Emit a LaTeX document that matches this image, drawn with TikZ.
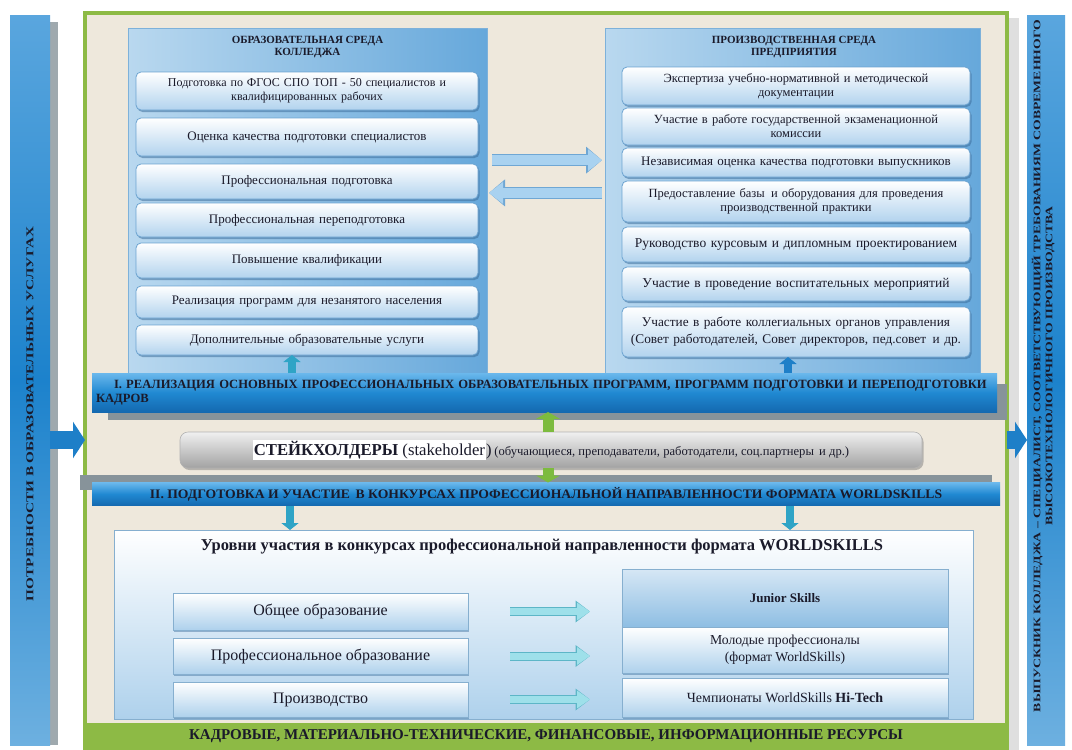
\documentclass[tikz,border=0pt]{standalone}
\usepackage{fontspec}
\setmainfont{Liberation Serif}
\usetikzlibrary{shadows,calc,arrows.meta}
\definecolor{frameG}{HTML}{8DBA45}
\definecolor{beigeF}{HTML}{EEE8DC}
\definecolor{barTop}{HTML}{5AA6DE}
\definecolor{barMid}{HTML}{1C82CC}
\definecolor{barBot}{HTML}{6DB0E0}
\definecolor{bandTop}{HTML}{6BB8EC}
\definecolor{bandMid}{HTML}{2089D2}
\definecolor{bandBot}{HTML}{1469B0}
\definecolor{shGray}{HTML}{87939A}
\definecolor{panL}{HTML}{B9D8EF}
\definecolor{panR}{HTML}{66A8DB}
\definecolor{panEdge}{HTML}{7DB1DA}
\definecolor{itemEdge}{HTML}{6CA3D0}
\definecolor{itemBot}{HTML}{B2D3EE}
\definecolor{itemSh}{HTML}{3D6E9C}
\definecolor{arrF}{HTML}{A9D2F0}
\definecolor{arrE}{HTML}{6FA7D4}
\definecolor{tealF}{HTML}{9EE0EA}
\definecolor{tealE}{HTML}{5DB6C7}
\definecolor{tealD}{HTML}{2FA4C6}
\definecolor{greenA}{HTML}{7DBB3E}
\definecolor{bigA}{HTML}{1E7FC8}
\definecolor{txtD}{HTML}{1A1A2A}
\definecolor{wsBot}{HTML}{AED1EC}
\definecolor{wsEdge}{HTML}{86AFCF}
\definecolor{stkTop}{HTML}{F0F0F0}
\definecolor{stkBot}{HTML}{A2A2A2}
\definecolor{jTop}{HTML}{D6E7F5}
\definecolor{jBot}{HTML}{8EBEE3}
\begin{document}
\begin{tikzpicture}[x=1pt,y=-1pt,
  every node/.style={inner sep=0pt, outer sep=0pt, text=txtD},
  vbar/.style={top color=barTop, bottom color=barBot, middle color=barMid},
  panel/.style={left color=panL, right color=panR, draw=panEdge, line width=0.8pt},
  ptitle/.style={font=\bfseries\fontsize{11}{12.5}\selectfont, align=center},
  item/.style={rounded corners=5pt, draw=itemEdge, line width=0.8pt, top color=white, bottom color=itemBot,
    drop shadow={shadow xshift=1.5pt, shadow yshift=-2pt, fill=itemSh, opacity=0.55},
    align=center, font=\fontsize{13}{15}\selectfont},
  band/.style={top color=bandTop, bottom color=bandBot, middle color=bandMid},
  lvl/.style={draw=wsEdge, line width=0.8pt, top color=white, bottom color=wsBot,
    drop shadow={shadow xshift=1pt, shadow yshift=-1.5pt, fill=itemSh, opacity=0.45},
    align=center},
  midarrow/.style={line width=10pt, draw=arrF, -{Triangle[length=14pt,width=21pt]},
    preaction={draw=arrE, line width=12.5pt, -{Triangle[length=16pt,width=26pt]}}},
  lvlarrow/.style={line width=7pt, draw=tealF, -{Triangle[length=13pt,width=17pt]},
    preaction={draw=tealE, line width=9pt, -{Triangle[length=14.5pt,width=21pt]}}},
  bigarrow/.style={line width=18pt, draw=bigA, -{Triangle[length=12pt,width=36pt]}},
  tealarrow/.style={line width=8pt, draw=tealD, -{Triangle[length=7pt,width=17pt]}},
  greenarrow/.style={line width=11pt, draw=greenA, -{Triangle[length=7pt,width=24pt]}}
]
\useasboundingbox (0,0) rectangle (1072,750);
\fill[white] (0,0) rectangle (1072,750);

% helper coordinates
\coordinate (ay) at (0,440);
\coordinate (xl) at (292,0);
\coordinate (xr) at (788,0);
\coordinate (xg) at (548,0);
\coordinate (xdl) at (290,0);
\coordinate (xdr) at (790,0);

% side bars
\fill[shGray!80] (50,22) rectangle (58,745);
\node[vbar, minimum width=40pt, minimum height=730pt] (lbar) at (30,380) {};
\node[rotate=90, font=\bfseries\fontsize{10.5}{12}\selectfont] (ltxt) at (30,414)
  {\scalebox{1.45}[1]{ПОТРЕБНОСТИ В ОБРАЗОВАТЕЛЬНЫХ УСЛУГАХ}};

\fill[gray!25] (1009,18) rectangle (1019,750);
\node[vbar, minimum width=38pt, minimum height=730pt] (rbar) at (1046,380) {};
\node[rotate=90, font=\bfseries\fontsize{10}{12}\selectfont] (rtxt) at (1044,366)
  {\scalebox{1.37}[1]{\begin{tabular}{@{}c@{}}ВЫПУСКНИК КОЛЛЕДЖА – СПЕЦИАЛИСТ, СООТВЕТСТВУЮЩИЙ ТРЕБОВАНИЯМ СОВРЕМЕННОГО\\ВЫСОКОТЕХНОЛОГИЧНОГО ПРОИЗВОДСТВА\end{tabular}}};

% frame
\node[draw=frameG, line width=4pt, fill=beigeF, minimum width=922pt, minimum height=736pt] (frame) at (546,381) {};
\node[fill=frameG, minimum width=922pt, minimum height=27pt, font=\bfseries\fontsize{15}{17}\selectfont] (res) at (546,736.5)
  {КАДРОВЫЕ, МАТЕРИАЛЬНО-ТЕХНИЧЕСКИЕ, ФИНАНСОВЫЕ, ИНФОРМАЦИОННЫЕ РЕСУРСЫ};

% big arrows
\draw[bigarrow] (lbar.east |- ay) -- (frame.west |- ay);
\draw[bigarrow] (frame.east |- ay) -- (rbar.west |- ay);

% panels
\node[panel, minimum width=359pt, minimum height=345pt] (edu) at (307.5,200.5) {};
\node[ptitle] (edut) at (307.5,47) {ОБРАЗОВАТЕЛЬНАЯ СРЕДА\\КОЛЛЕДЖА};
\node[panel, minimum width=375pt, minimum height=345pt] (prod) at (792.5,200.5) {};
\node[ptitle] (prodt) at (794,47) {ПРОИЗВОДСТВЕННАЯ СРЕДА\\ПРЕДПРИЯТИЯ};

% left items
\node[item, minimum width=342pt, minimum height=38pt, text width=334pt, font=\fontsize{12}{14}\selectfont] (e1) at (307,91)
  {Подготовка по ФГОС СПО ТОП - 50 специалистов и\\квалифицированных рабочих};
\node[item, minimum width=342pt, minimum height=38pt, text width=334pt] (e2) at (307,137) {Оценка качества подготовки специалистов};
\node[item, minimum width=342pt, minimum height=35pt, text width=334pt] (e3) at (307,181.5) {Профессиональная подготовка};
\node[item, minimum width=342pt, minimum height=34pt, text width=334pt] (e4) at (307,220) {Профессиональная переподготовка};
\node[item, minimum width=342pt, minimum height=35pt, text width=334pt] (e5) at (307,260.5) {Повышение квалификации};
\node[item, minimum width=342pt, minimum height=32pt, text width=334pt] (e6) at (307,302) {Реализация программ для незанятого населения};
\node[item, minimum width=342pt, minimum height=30pt, text width=334pt] (e7) at (307,340) {Дополнительные образовательные услуги};

% right items
\node[item, minimum width=348pt, minimum height=38pt, text width=340pt, font=\fontsize{12.5}{14}\selectfont] (r1) at (796,86)
  {Экспертиза учебно-нормативной и методической\\документации};
\node[item, minimum width=348pt, minimum height=37pt, text width=340pt, font=\fontsize{12.5}{14}\selectfont] (r2) at (796,126.5)
  {Участие в работе государственной экзаменационной\\комиссии};
\node[item, minimum width=348pt, minimum height=29pt, text width=340pt] (r3) at (796,162.5) {Независимая оценка качества подготовки выпускников};
\node[item, minimum width=348pt, minimum height=41pt, text width=340pt, font=\fontsize{12.5}{14}\selectfont] (r4) at (796,201.5)
  {Предоставление базы\, и оборудования для проведения\\производственной практики};
\node[item, minimum width=348pt, minimum height=35pt, text width=340pt, font=\fontsize{13.5}{15}\selectfont] (r5) at (796,244.5) {Руководство курсовым и дипломным проектированием};
\node[item, minimum width=348pt, minimum height=34pt, text width=340pt, font=\fontsize{13.5}{15}\selectfont] (r6) at (796,284) {Участие в проведение воспитательных мероприятий};
\node[item, minimum width=348pt, minimum height=50pt, text width=340pt, font=\fontsize{13.3}{17}\selectfont] (r7) at (796,332)
  {Участие в работе коллегиальных органов управления\\(Совет работодателей, Совет директоров, пед.совет\, и др.};

% arrows between panels
\draw[midarrow, shorten <=5pt, shorten >=3pt] ($(edu.north east)!0.383!(edu.south east)$) -- ($(prod.north west)!0.383!(prod.south west)$);
\draw[midarrow, shorten <=3pt, shorten >=2pt] ($(prod.north west)!0.478!(prod.south west)$) -- ($(edu.north east)!0.478!(edu.south east)$);

% band I
\fill[shGray] (108,384) rectangle (1007,420);
\node[band, minimum width=905pt, minimum height=39pt, text width=897pt, align=left,
  font=\bfseries\fontsize{12.6}{14}\selectfont] (bandI) at (544.5,392.5)
  {\hspace*{18pt}I. РЕАЛИЗАЦИЯ ОСНОВНЫХ ПРОФЕССИОНАЛЬНЫХ ОБРАЗОВАТЕЛЬНЫХ ПРОГРАММ, ПРОГРАММ ПОДГОТОВКИ И ПЕРЕПОДГОТОВКИ\\КАДРОВ};

\draw[tealarrow] (bandI.north -| xl) -- (e7.south -| xl);
\draw[tealarrow, draw=bigA] (bandI.north -| xr) -- (r7.south -| xr);

% stakeholders
\node[rounded corners=8pt, top color=stkTop, bottom color=stkBot, draw=gray!60, line width=0.6pt,
  drop shadow={shadow xshift=1.5pt, shadow yshift=-2pt, fill=gray, opacity=0.5},
  minimum width=742pt, minimum height=36pt] (stk) at (551,450)
  {\setlength{\fboxsep}{1pt}\colorbox{white}{\fontsize{16.7}{19}\selectfont\textbf{СТЕЙКХОЛДЕРЫ} (stakeholder}\fontsize{16.7}{19}\selectfont)\,{\fontsize{12.6}{14}\selectfont (обучающиеся, преподаватели, работодатели, соц.партнеры\, и др.)}};

% band II
\fill[shGray] (80,475) rectangle (992,490);
\node[band, minimum width=908pt, minimum height=23pt, font=\bfseries\fontsize{13}{14}\selectfont] (bandII) at (546,494)
  {\scalebox{1.05}[1]{II. ПОДГОТОВКА И УЧАСТИЕ\, В КОНКУРСАХ ПРОФЕССИОНАЛЬНОЙ НАПРАВЛЕННОСТИ ФОРМАТА WORLDSKILLS}};

\draw[greenarrow] (stk.north -| xg) -- (bandI.south -| xg);
\draw[greenarrow] (stk.south -| xg) -- (bandII.north -| xg);

% worldskills panel
\node[draw=wsEdge, line width=0.8pt, top color=white, bottom color=wsBot, minimum width=859pt, minimum height=189pt] (ws) at (543.5,624.5) {};
\node[font=\bfseries\fontsize{16.5}{19}\selectfont] (wst) at (542,547)
  {Уровни участия в конкурсах профессиональной направленности формата WORLDSKILLS};

\draw[tealarrow] (bandII.south -| xdl) -- (ws.north -| xdl);
\draw[tealarrow] (bandII.south -| xdr) -- (ws.north -| xdr);

\node[lvl, minimum width=295pt, minimum height=37pt, font=\fontsize{16}{18}\selectfont] (b1) at (320.5,611.5) {Общее образование};
\node[lvl, minimum width=295pt, minimum height=36pt, font=\fontsize{16}{18}\selectfont] (b2) at (320.5,656) {Профессиональное образование};
\node[lvl, minimum width=295pt, minimum height=35pt, font=\fontsize{16}{18}\selectfont] (b3) at (320.5,699.5) {Производство};

\node[lvl, top color=jTop, bottom color=jBot, minimum width=326pt, minimum height=58pt, font=\bfseries\fontsize{13}{15}\selectfont] (j1) at (785,598) {Junior Skills};
\node[lvl, minimum width=326pt, minimum height=46pt, font=\fontsize{13.7}{17}\selectfont] (j2) at (785,650) {Молодые профессионалы\\(формат WorldSkills)};
\node[lvl, minimum width=326pt, minimum height=39pt, font=\fontsize{14}{16}\selectfont] (j3) at (785,697.5) {Чемпионаты WorldSkills \textbf{Hi-Tech}};

\draw[lvlarrow, shorten <=42pt, shorten >=32pt] (b1.east) -- (b1.east -| j1.west);
\draw[lvlarrow, shorten <=42pt, shorten >=32pt] (b2.east) -- (b2.east -| j2.west);
\draw[lvlarrow, shorten <=42pt, shorten >=32pt] (b3.east) -- (b3.east -| j3.west);
\end{tikzpicture}
\end{document}
